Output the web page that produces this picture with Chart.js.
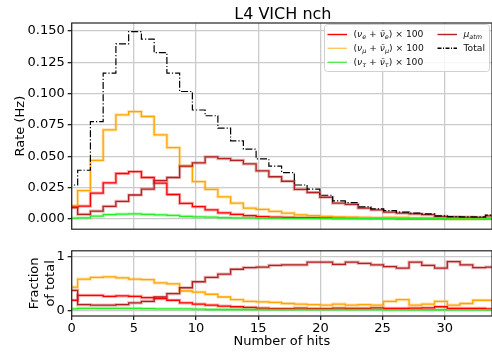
<!DOCTYPE html>
<html>
<head>
<meta charset="utf-8">
<script src="https://cdn.jsdelivr.net/npm/chart.js@4.4.1/dist/chart.umd.min.js"></script>
<style>
  body { margin: 0; background: #fff; }
  #wrap { position: relative; width: 492px; height: 354px; }
  canvas { position: absolute; left: 0; }
  #rate { top: 0; }
  #frac { top: 240px; }
</style>
</head>
<body>
<div id="wrap">
  <canvas id="rate" width="492" height="240"></canvas>
  <canvas id="frac" width="492" height="114"></canvas>
</div>
<script>
// histogram binning in number of hits
const binStart = -0.545;
const binWidth = 1.025;

// rates per bin (Hz), neutrino components shown x100
const nueRate = [0.0095, 0.0102, 0.0205, 0.0287, 0.0362, 0.0377, 0.033, 0.0285, 0.0194, 0.0124,
  0.0098, 0.0072, 0.0047, 0.0035, 0.0025, 0.0018, 0.0014, 0.0012, 0.001, 0.0009,
  0.0007, 0.0006, 0.0005, 0.0004, 0.0004, 0.0003, 0.0002, 0.0002, 0.0002, 0.0002,
  0.0001, 0.0001, 0.0001, 0.0001];
const numuRate = [0.0106, 0.0225, 0.0466, 0.0711, 0.083, 0.0856, 0.0817, 0.067, 0.0569, 0.0421,
  0.0297, 0.0235, 0.0175, 0.0125, 0.0085, 0.0076, 0.006, 0.0045, 0.0032, 0.0025,
  0.0019, 0.0016, 0.0013, 0.0011, 0.0008, 0.0011, 0.0011, 0.0005, 0.0005, 0.0004,
  0.0002, 0.0002, 0.0003, 0.0006];
const nutauRate = [0.0006, 0.0008, 0.0022, 0.0033, 0.0038, 0.004, 0.0036, 0.0032, 0.0027, 0.002,
  0.0016, 0.0013, 0.001, 0.0008, 0.0007, 0.0006, 0.0005, 0.0004, 0.0004, 0.0003,
  0.0003, 0.0002, 0.0002, 0.0002, 0.0001, 0.0001, 0.0001, 0.0001, 0.0001, 0.0001,
  0, 0, 0, 0.0001];
const muonRate = [0.009, 0.0036, 0.0062, 0.01, 0.014, 0.019, 0.0237, 0.0305, 0.033, 0.0421,
  0.0447, 0.0494, 0.0481, 0.0466, 0.0439, 0.0383, 0.0336, 0.030, 0.0235, 0.021,
  0.0172, 0.0126, 0.0116, 0.0086, 0.0071, 0.0054, 0.0045, 0.004, 0.0033, 0.0019,
  0.0016, 0.0013, 0.0012, 0.0024];
const totalRate = [0.027, 0.0388, 0.0776, 0.1164, 0.1397, 0.1495, 0.1436, 0.1327, 0.1164, 0.1017,
  0.0869, 0.0823, 0.0724, 0.0623, 0.0556, 0.0478, 0.0421, 0.0369, 0.027, 0.0237,
  0.0188, 0.0144, 0.013, 0.0095, 0.008, 0.0066, 0.0054, 0.0046, 0.004, 0.0023,
  0.0018, 0.0015, 0.0015, 0.003];

// fraction of total per bin
const nueFrac = [0.19, 0.28, 0.28, 0.26, 0.27, 0.26, 0.24, 0.22, 0.19, 0.14,
  0.12, 0.10, 0.08, 0.07, 0.06, 0.045, 0.035, 0.035, 0.045, 0.035,
  0.035, 0.045, 0.04, 0.04, 0.05, 0.04, 0.04, 0.045, 0.05, 0.07,
  0.04, 0.04, 0.04, 0.03];
const numuFrac = [0.43, 0.58, 0.61, 0.62, 0.60, 0.58, 0.57, 0.51, 0.49, 0.36,
  0.34, 0.30, 0.25, 0.20, 0.17, 0.16, 0.15, 0.13, 0.12, 0.11,
  0.10, 0.12, 0.10, 0.11, 0.10, 0.17, 0.20, 0.10, 0.12, 0.17,
  0.10, 0.13, 0.19, 0.19];
const nutauFrac = [0.03, 0.04, 0.04, 0.04, 0.04, 0.04, 0.035, 0.03, 0.03, 0.03,
  0.025, 0.02, 0.02, 0.02, 0.02, 0.02, 0.02, 0.02, 0.02, 0.02,
  0.02, 0.02, 0.02, 0.02, 0.02, 0.015, 0.015, 0.015, 0.015, 0.015,
  0.015, 0.015, 0.015, 0.015];
const muonFrac = [0.37, 0.11, 0.10, 0.10, 0.11, 0.14, 0.17, 0.25, 0.31, 0.42,
  0.53, 0.61, 0.67, 0.76, 0.79, 0.80, 0.83, 0.84, 0.84, 0.89,
  0.89, 0.85, 0.89, 0.87, 0.84, 0.81, 0.78, 0.89, 0.83, 0.78,
  0.90, 0.84, 0.79, 0.80];

const hitTicks = [0, 5, 10, 15, 20, 25, 30];
const rateTicks = [0, 0.025, 0.05, 0.075, 0.1, 0.125, 0.15];
const fracTicks = [0, 1];

const FONT = "'DejaVu Sans', sans-serif";
const GRID = '#cbcbcb';
const AXIS = '#222';

const series = [
  { key: 'total', color: '#000000', dash: [7, 2, 1.2, 2], rate: totalRate },
  { key: 'muon', color: '#b22222', halo: 'rgba(178,34,34,0.3)', rate: muonRate, frac: muonFrac },
  { key: 'nutau', color: '#22ee22', halo: 'rgba(34,238,34,0.3)', rate: nutauRate, frac: nutauFrac },
  { key: 'numu', color: '#ffa500', halo: 'rgba(255,165,0,0.3)', rate: numuRate, frac: numuFrac },
  { key: 'nue', color: '#ff0000', halo: 'rgba(255,0,0,0.3)', rate: nueRate, frac: nueFrac },
];

// a point at the first left edge, then one per bin at its right edge;
// 'after' stepping rises at the left edge and holds the value across the bin
const steps = (vals) => {
  const pts = [{ x: binStart, y: vals[0] }];
  vals.forEach((v, i) => pts.push({ x: binStart + (i + 1) * binWidth, y: v }));
  return pts;
};

const lineSet = (s, vals, halo) => ({
  label: s.key,
  data: steps(vals),
  borderColor: halo ? s.halo : s.color,
  borderWidth: halo ? 3.2 : (s.key === 'total' ? 1.2 : 1.3),
  borderDash: s.dash || [],
  stepped: 'after',
  pointRadius: 0,
  fill: false,
});

// thin line on top, a soft wide copy underneath
const datasetsFor = (field) => {
  const used = series.filter((s) => s[field]);
  const lines = used.map((s) => lineSet(s, s[field], false));
  const halos = used.filter((s) => s.halo).map((s) => lineSet(s, s[field], true));
  return lines.concat(halos);
};

const fixedTicks = (list) => (scale) => {
  scale.ticks = list.map((v) => ({ value: v }));
};

const frame = {
  id: 'frame',
  afterDatasetsDraw(chart) {
    const { ctx, chartArea: a } = chart;
    ctx.save();
    ctx.strokeStyle = AXIS;
    ctx.lineWidth = 1.2;
    ctx.strokeRect(a.left, a.top, a.right - a.left, a.bottom - a.top);
    ctx.restore();
  },
};

const heading = {
  id: 'heading',
  afterDraw(chart) {
    const { ctx, chartArea: a } = chart;
    ctx.save();
    ctx.font = `16px ${FONT}`;
    ctx.fillStyle = '#000';
    ctx.textAlign = 'center';
    ctx.textBaseline = 'alphabetic';
    ctx.fillText('L4 VICH nch', (a.left + a.right) / 2 + 1, 18.5);
    ctx.restore();
  },
};

// text runs with italic symbols and subscripts
function drawRich(ctx, parts, x, y, size) {
  for (const p of parts) {
    const fs = p.sub ? size * 0.7 : size;
    ctx.font = `${p.it ? 'italic ' : ''}${fs}px ${FONT}`;
    ctx.fillText(p.t, x, y + (p.sub ? size * 0.28 : 0));
    x += ctx.measureText(p.t).width;
  }
}

const nuLabel = (flav) => [
  { t: '(' }, { t: 'ν', it: true }, { t: flav, it: true, sub: true },
  { t: ' + ' }, { t: 'ν\u0304', it: true }, { t: flav, it: true, sub: true },
  { t: ') × 100' },
];

const legendItems = [
  { col: 0, row: 0, color: '#ff0000', parts: nuLabel('e') },
  { col: 0, row: 1, color: '#ffc860', parts: nuLabel('μ') },
  { col: 0, row: 2, color: '#55ee55', parts: nuLabel('τ') },
  { col: 1, row: 0, color: '#b22222', parts: [{ t: 'μ', it: true }, { t: 'atm', it: true, sub: true }] },
  { col: 1, row: 1, color: '#000000', dash: [4, 1.5, 1, 1.5], parts: [{ t: 'Total' }] },
];

const legendBox = {
  id: 'legendBox',
  afterDraw(chart) {
    const ctx = chart.ctx;
    const x0 = 324, y0 = 24, w = 165, h = 47;
    ctx.save();
    ctx.beginPath();
    ctx.roundRect(x0 + 0.5, y0 + 0.5, w, h, 3);
    ctx.fillStyle = 'rgba(255,255,255,0.85)';
    ctx.fill();
    ctx.strokeStyle = '#d0d0d0';
    ctx.lineWidth = 1;
    ctx.stroke();
    const rows = [34.5, 48.3, 62.3];
    const cols = [327.5, 437.5];
    for (const it of legendItems) {
      const hx = cols[it.col], y = rows[it.row];
      ctx.beginPath();
      ctx.setLineDash(it.dash || []);
      ctx.strokeStyle = it.color;
      ctx.lineWidth = 1.4;
      ctx.moveTo(hx, y);
      ctx.lineTo(hx + 19.5, y);
      ctx.stroke();
      ctx.setLineDash([]);
      ctx.fillStyle = '#111';
      ctx.textBaseline = 'middle';
      ctx.textAlign = 'left';
      drawRich(ctx, it.parts, hx + 26, y, 9.2);
    }
    ctx.restore();
  },
};

const tickFont = { family: FONT, size: 13 };

new Chart(document.getElementById('rate'), {
  type: 'line',
  data: { datasets: datasetsFor('rate') },
  options: {
    animation: false,
    responsive: false,
    layout: { padding: { top: 23, left: 0, right: 0, bottom: 0 } },
    plugins: { legend: { display: false }, tooltip: { enabled: false } },
    scales: {
      x: {
        type: 'linear',
        min: 0,
        max: 33.8,
        afterBuildTicks: fixedTicks(hitTicks),
        afterFit: (s) => { s.height = 5; },
        ticks: { display: false },
        grid: { color: GRID, lineWidth: 1.3, drawTicks: false },
        border: { display: false },
      },
      y: {
        type: 'linear',
        min: -0.0083,
        max: 0.1564,
        afterBuildTicks: fixedTicks(rateTicks),
        afterFit: (s) => { s.width = 71.7; },
        ticks: { font: tickFont, color: '#000', padding: 3, callback: (v) => v.toFixed(3) },
        grid: { color: GRID, lineWidth: 1.3, tickLength: 4, tickColor: AXIS },
        border: { display: false },
        title: { display: true, text: 'Rate (Hz)', color: '#000', font: { family: FONT, size: 13 }, padding: { top: 12.5, bottom: 0 } },
      },
    },
  },
  plugins: [frame, heading, legendBox],
});

new Chart(document.getElementById('frac'), {
  type: 'line',
  data: { datasets: datasetsFor('frac') },
  options: {
    animation: false,
    responsive: false,
    layout: { padding: { top: 5, left: 0, right: 0, bottom: 0 } },
    plugins: { legend: { display: false }, tooltip: { enabled: false } },
    scales: {
      x: {
        type: 'linear',
        min: 0,
        max: 33.8,
        afterBuildTicks: fixedTicks(hitTicks),
        afterFit: (s) => { s.height = 38; },
        ticks: { font: tickFont, color: '#000', padding: 1, maxRotation: 0, callback: (v) => String(v) },
        grid: { color: GRID, lineWidth: 1.3, tickLength: 4, tickColor: AXIS },
        border: { display: false },
        title: { display: true, text: 'Number of hits', color: '#000', font: { family: FONT, size: 13 }, padding: { top: 0, bottom: 5 } },
      },
      y: {
        type: 'linear',
        min: -0.1,
        max: 1.1,
        afterBuildTicks: fixedTicks(fracTicks),
        afterFit: (s) => { s.width = 71.7; },
        ticks: { font: tickFont, color: '#000', padding: 3, callback: (v) => String(v) },
        grid: { color: GRID, lineWidth: 1.3, tickLength: 4, tickColor: AXIS },
        border: { display: false },
        title: { display: true, text: ['Fraction', 'of total'], color: '#000', font: { family: FONT, size: 13, lineHeight: 1.23 }, padding: { top: 27, bottom: 0 } },
      },
    },
  },
  plugins: [frame],
});
</script>
</body>
</html>
